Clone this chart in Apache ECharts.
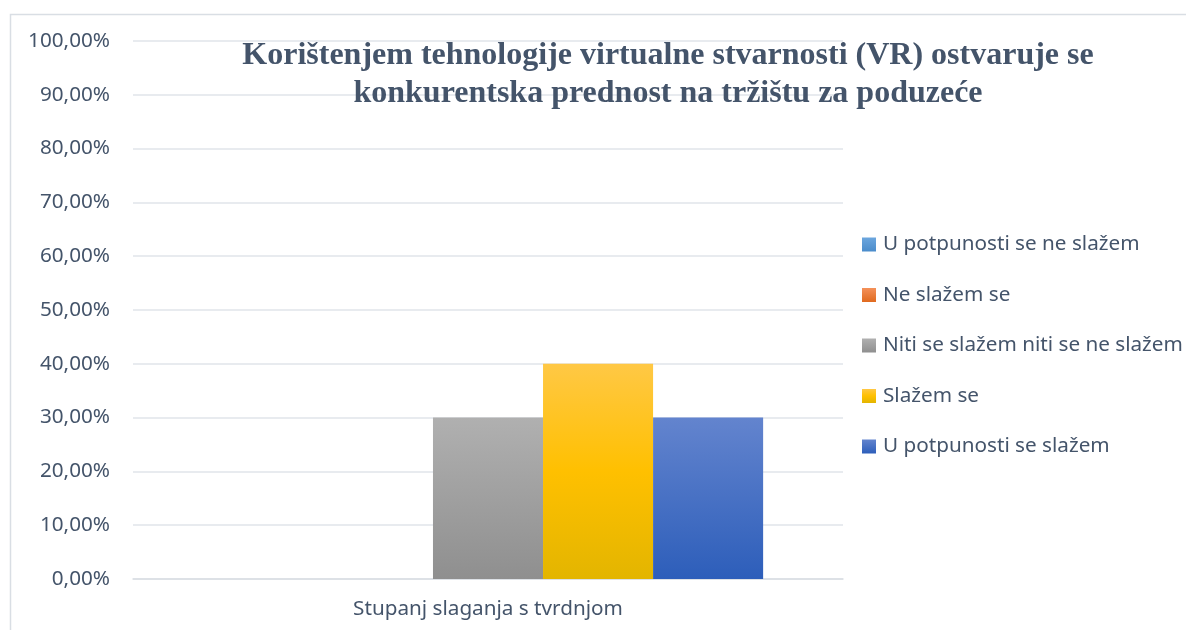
<!DOCTYPE html>
<html><head><meta charset="utf-8">
<script src="https://cdn.jsdelivr.net/npm/echarts@6/dist/echarts.min.js"></script>
<style>html,body{margin:0;padding:0;background:#fff}#c{width:1186px;height:630px}</style>
</head><body><div id="c"></div>
<script>
const categories = ['Stupanj slaganja s tvrdnjom'];
const seriesNames = ['U potpunosti se ne slažem','Ne slažem se','Niti se slažem niti se ne slažem','Slažem se','U potpunosti se slažem'];
const seriesValues = [[0],[0],[0.30],[0.40],[0.30]];
const gradients = [
  ['#6CA6DE','#4A8CCB'],
  ['#F4915A','#E06A1F'],
  ['#B0B0B0','#8F8F8F'],
  ['#FFC845','#FFC000','#E3B500'],
  ['#6384CE','#2D5EBA']
];
const titleText = 'Korištenjem tehnologije virtualne stvarnosti (VR) ostvaruje se\nkonkurentska prednost na tržištu za poduzeće';

function grad(cols){
  const stops = cols.map((c,i)=>({offset: cols.length===1?0:i/(cols.length-1), color:c}));
  return new echarts.graphic.LinearGradient(0,0,0,1,stops);
}
const chart = echarts.init(document.getElementById('c'), null, {renderer:'canvas'});
const textColor = '#44546A';
chart.setOption({
  animation:false,
  backgroundColor:'#fff',
  graphic:[{type:'rect',shape:{x:10.5,y:14.5,width:1200,height:700},style:{fill:'none',stroke:'#D9DEE4',lineWidth:1.5},z:-1}],
  title:{text:titleText,left:663,top:32,textAlign:'center',
    textStyle:{fontFamily:'Liberation Serif',fontWeight:'bold',fontSize:32,color:textColor,lineHeight:38}},
  legend:{orient:'vertical',left:857,top:229,itemWidth:14,itemHeight:14,itemGap:29.5,
    icon:'rect',
    textStyle:{fontFamily:'Noto Sans',fontSize:20.7,lineHeight:21,color:textColor,padding:[0,0,0,2]},
    data:seriesNames},
  grid:{left:133,right:343,top:41,bottom:51,containLabel:false},
  xAxis:{type:'category',data:categories,
    axisLine:{show:true,lineStyle:{color:'#D9DEE4',width:1.5}},axisTick:{show:false},
    axisLabel:{fontFamily:'Noto Sans',fontSize:20.7,color:textColor,margin:20}},
  yAxis:{type:'value',min:0,max:1,interval:0.1,
    axisLine:{show:false},axisTick:{show:false},
    splitLine:{lineStyle:{color:'#E0E4EA',width:1.5}},
    axisLabel:{fontFamily:'Noto Sans',fontSize:20.7,color:textColor,margin:23,
      formatter:v=>(v*100).toFixed(2).replace('.',',')+'%'}},
  series: seriesNames.map((n,i)=>({
    name:n,type:'bar',data:seriesValues[i],barGap:'0%',barCategoryGap:'22.5%',
    itemStyle:{color:grad(gradients[i])}
  }))
});
</script></body></html>
